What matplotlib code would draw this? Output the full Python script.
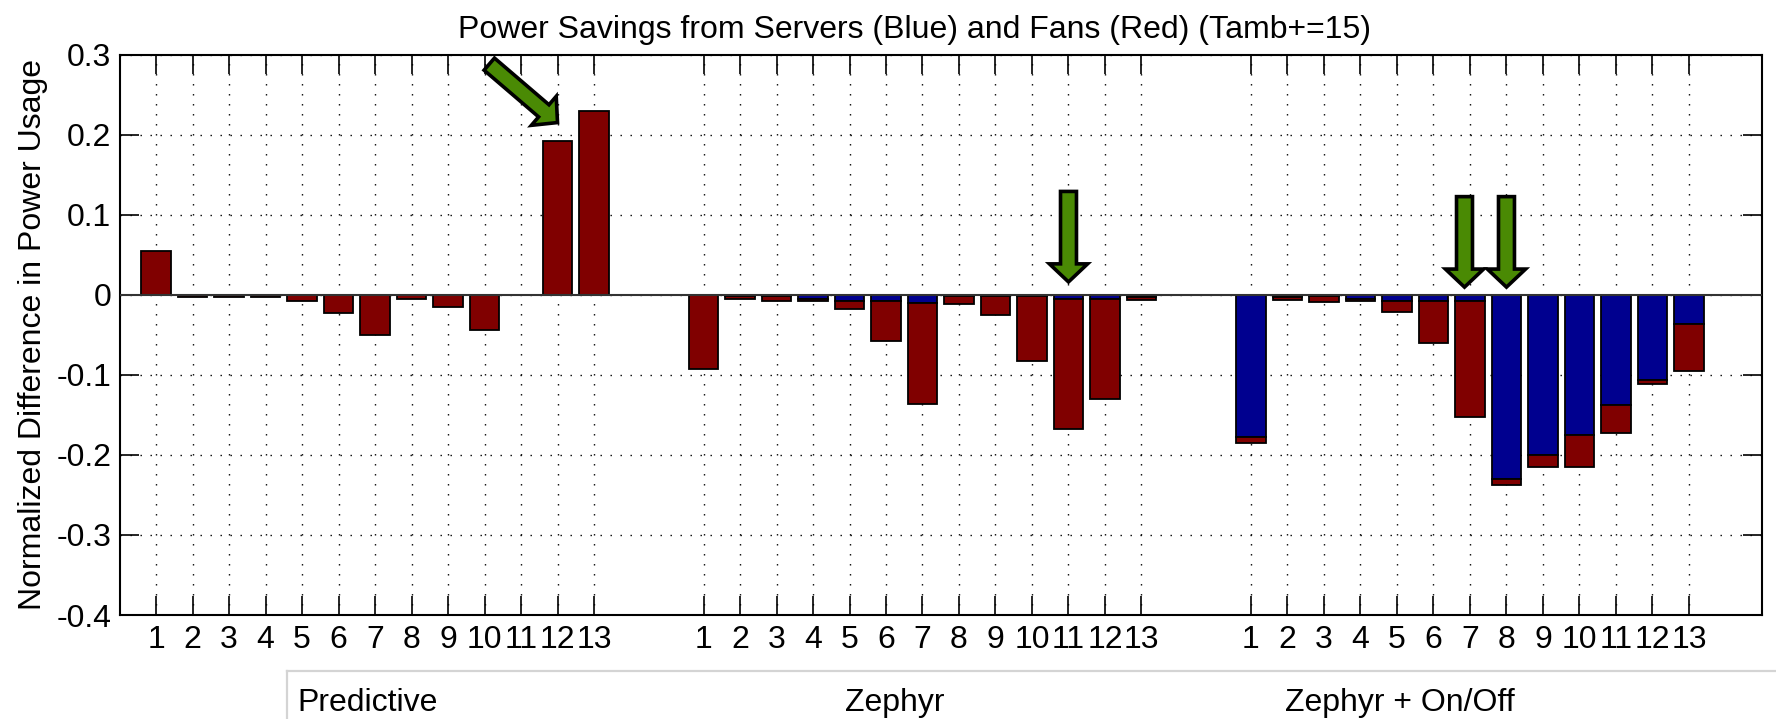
import numpy as np
import matplotlib
matplotlib.use("Agg")
import matplotlib.pyplot as plt
from matplotlib.patches import FancyArrowPatch, ArrowStyle
from matplotlib.lines import Line2D
from matplotlib.ticker import FuncFormatter

plt.rcParams['font.family'] = ['Liberation Sans', 'DejaVu Sans']

groups = ['Predictive', 'Zephyr', 'Zephyr + On/Off']
runs = list(range(1, 14))

# server (blue) and fan (red) components, stacked downward from zero
servers = [
    [0, 0, 0, 0, 0, 0, 0, 0, 0, 0, 0, 0, 0],
    [0, -0.002, -0.001, -0.005, -0.008, -0.008, -0.010, -0.002, -0.002, -0.002, -0.005, -0.005, -0.003],
    [-0.178, -0.003, -0.002, -0.005, -0.008, -0.008, -0.008, -0.230, -0.200, -0.175, -0.138, -0.106, -0.037],
]
fans = [
    [0.055, -0.003, -0.003, -0.003, -0.008, -0.023, -0.050, -0.005, -0.015, -0.044, 0, 0.192, 0.230],
    [-0.093, -0.003, -0.007, -0.003, -0.010, -0.050, -0.126, -0.009, -0.023, -0.081, -0.163, -0.125, -0.003],
    [-0.0075, -0.003, -0.007, -0.003, -0.013, -0.052, -0.145, -0.008, -0.0155, -0.0405, -0.035, -0.005, -0.058],
]

# arrows: (tail x, tail y) -> (tip x, tip y)
arrows = [
    ((10.13, 0.288), (12.0, 0.215)),
    ((26.0, 0.129), (26.0, 0.016)),
    ((36.85, 0.1225), (36.85, 0.0095)),
    ((38.0, 0.1225), (38.0, 0.0095)),
]

blue = '#00008f'
red = '#800000'
green = '#4a8a04'
fs = 23


def tick_fmt(v, pos):
    v = round(v, 1)
    if abs(v) < 1e-9:
        return '0'
    return '%g' % v


fig = plt.figure(figsize=(17.76, 7.19), dpi=100)
ax = fig.add_axes([0.0673, 0.1446, 0.9921 - 0.0673, 0.9242 - 0.1446])

positions = []
for g in range(len(groups)):
    x = np.array(runs) + 15 * g
    positions.extend(x)
    s = np.array(servers[g])
    f = np.array(fans[g])
    ax.bar(x, s, width=0.8, color=blue, edgecolor='k', linewidth=1.3, zorder=3)
    ax.bar(x, f, width=0.8, bottom=s, color=red, edgecolor='k', linewidth=1.3, zorder=3)

ax.axhline(0, color='#333333', linewidth=1.5, zorder=4)

ax.set_xlim(0, 45)
ax.set_ylim(-0.4, 0.3)
ax.set_xticks(positions)
ax.set_xticklabels([str(r) for r in runs] * len(groups))
ax.set_yticks(np.arange(-0.4, 0.31, 0.1))
ax.yaxis.set_major_formatter(FuncFormatter(tick_fmt))

ax.tick_params(direction='in', length=13.5, width=1.2, labelsize=fs,
               top=True, right=True, colors='k')
ax.tick_params(axis='x', pad=7)
ax.tick_params(axis='y', pad=6)
for sp in ax.spines.values():
    sp.set_linewidth(1.5)

ax.grid(True, color='k', linewidth=1.0, linestyle=(0, (1, 6.2)), zorder=1)
ax.set_axisbelow(True)

ax.set_title('Power Savings from Servers (Blue) and Fans (Red) (Tamb+=15)',
             fontsize=fs, x=0.484, pad=12)
ax.set_ylabel('Normalized Difference in Power Usage', fontsize=fs, labelpad=6)

for (x0, y0), (x1, y1) in arrows:
    style = ArrowStyle.Simple(head_length=13, head_width=27.5, tail_width=11.5)
    arr = FancyArrowPatch((x0, y0), (x1, y1), arrowstyle=style, mutation_scale=1,
                          shrinkA=0, shrinkB=0, facecolor=green, edgecolor='k',
                          linewidth=2.6, joinstyle='miter', zorder=6, clip_on=False)
    ax.add_patch(arr)

# group labels below the run numbers
W, H = 1776.0, 719.0
fig.add_artist(Line2D([286.7 / W, 1.0], [1 - 671 / H, 1 - 671 / H],
                      color='#d4d4d4', linewidth=1.6))
fig.add_artist(Line2D([286.7 / W, 286.7 / W], [1 - 671 / H, 0.0],
                      color='#d4d4d4', linewidth=1.6))
for name, px in zip(groups, [297, 845, 1285]):
    fig.text(px / W, 1 - 711 / H, name, fontsize=fs, va='baseline', ha='left')

fig.savefig('out.png', dpi=100)
